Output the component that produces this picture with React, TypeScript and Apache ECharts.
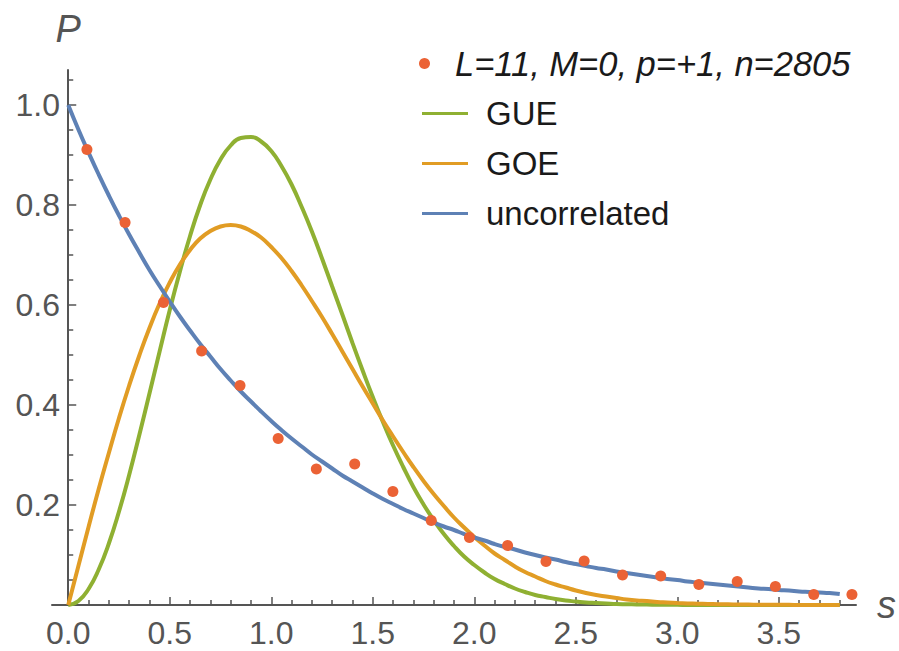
import React, { useEffect, useRef } from "react";
import * as echarts from "echarts";

// spacing s values of the measured histogram points
const pointS = [0.092, 0.280, 0.469, 0.657, 0.846, 1.034, 1.222, 1.411, 1.599, 1.788, 1.976, 2.164, 2.353, 2.541, 2.730, 2.918, 3.106, 3.295, 3.483, 3.672, 3.860];
const pointP = [0.911, 0.765, 0.605, 0.508, 0.439, 0.333, 0.272, 0.282, 0.227, 0.169, 0.135, 0.119, 0.087, 0.088, 0.060, 0.058, 0.041, 0.047, 0.037, 0.021, 0.021];

// s values where the reference curves are read (step 0.05)
const curveS = [
  0, 0.05, 0.1, 0.15, 0.2, 0.25, 0.3, 0.35, 0.4, 0.45,
  0.5, 0.55, 0.6, 0.65, 0.7, 0.75, 0.8, 0.85, 0.9, 0.95,
  1.0, 1.05, 1.1, 1.15, 1.2, 1.25, 1.3, 1.35, 1.4, 1.45,
  1.5, 1.55, 1.6, 1.65, 1.7, 1.75, 1.8, 1.85, 1.9, 1.95,
  2.0, 2.05, 2.1, 2.15, 2.2, 2.25, 2.3, 2.35, 2.4, 2.45,
  2.5, 2.55, 2.6, 2.65, 2.7, 2.75, 2.8, 2.85, 2.9, 2.95,
  3.0, 3.05, 3.1, 3.15, 3.2, 3.25, 3.3, 3.35, 3.4, 3.45,
  3.5, 3.55, 3.6, 3.65, 3.7, 3.75, 3.8,
];
const gueP = [
  0, 0.008, 0.032, 0.071, 0.123, 0.187, 0.260, 0.340, 0.423, 0.507,
  0.590, 0.667, 0.738, 0.800, 0.851, 0.891, 0.919, 0.934, 0.936, 0.927,
  0.908, 0.878, 0.841, 0.796, 0.747, 0.693, 0.637, 0.581, 0.524, 0.469,
  0.416, 0.366, 0.319, 0.276, 0.236, 0.201, 0.170, 0.142, 0.118, 0.097,
  0.080, 0.065, 0.052, 0.042, 0.033, 0.026, 0.020, 0.016, 0.012, 0.009,
  0.007, 0.005, 0.004, 0.003, 0.002, 0.0016, 0.0012, 0.0009, 0.0006, 0.0004,
  0.0003, 0.0002, 0.0001, 0.0001, 0, 0, 0, 0, 0, 0,
  0, 0, 0, 0, 0, 0, 0,
];
const goeP = [
  0, 0.078, 0.156, 0.232, 0.304, 0.374, 0.439, 0.499, 0.554, 0.603,
  0.645, 0.681, 0.710, 0.733, 0.748, 0.757, 0.760, 0.757, 0.748, 0.735,
  0.716, 0.694, 0.668, 0.639, 0.608, 0.576, 0.542, 0.507, 0.472, 0.437,
  0.403, 0.369, 0.337, 0.306, 0.276, 0.248, 0.222, 0.198, 0.175, 0.155,
  0.136, 0.119, 0.103, 0.090, 0.077, 0.066, 0.057, 0.048, 0.041, 0.035,
  0.029, 0.024, 0.020, 0.017, 0.014, 0.011, 0.009, 0.008, 0.006, 0.005,
  0.004, 0.0032, 0.0026, 0.0020, 0.0016, 0.0013, 0.0010, 0.0008, 0.0006, 0.0005,
  0.0004, 0.0003, 0.0002, 0.0002, 0.0001, 0.0001, 0.0001,
];
const poissonP = [
  1.000, 0.951, 0.905, 0.861, 0.819, 0.779, 0.741, 0.705, 0.670, 0.638,
  0.607, 0.577, 0.549, 0.522, 0.497, 0.472, 0.449, 0.427, 0.407, 0.387,
  0.368, 0.350, 0.333, 0.317, 0.301, 0.287, 0.273, 0.259, 0.247, 0.235,
  0.223, 0.212, 0.202, 0.192, 0.183, 0.174, 0.165, 0.157, 0.150, 0.142,
  0.135, 0.129, 0.122, 0.116, 0.111, 0.105, 0.100, 0.095, 0.091, 0.086,
  0.082, 0.078, 0.074, 0.071, 0.067, 0.064, 0.061, 0.058, 0.055, 0.052,
  0.050, 0.047, 0.045, 0.043, 0.041, 0.039, 0.037, 0.035, 0.033, 0.032,
  0.030, 0.029, 0.027, 0.026, 0.025, 0.024, 0.022,
];

// tick values
const xMajorTicks = [0, 0.5, 1.0, 1.5, 2.0, 2.5, 3.0, 3.5];
const xMinorTicks = [0.1, 0.2, 0.3, 0.4, 0.6, 0.7, 0.8, 0.9, 1.1, 1.2, 1.3, 1.4, 1.6, 1.7, 1.8, 1.9, 2.1, 2.2, 2.3, 2.4, 2.6, 2.7, 2.8, 2.9, 3.1, 3.2, 3.3, 3.4, 3.6, 3.7, 3.8];
const yMajorTicks = [0.2, 0.4, 0.6, 0.8, 1.0];
const yMinorTicks = [0.05, 0.1, 0.15, 0.25, 0.3, 0.35, 0.45, 0.5, 0.55, 0.65, 0.7, 0.75, 0.85, 0.9, 0.95, 1.05];

const seriesNames = ["L=11, M=0, p=+1, n=2805", "GUE", "GOE", "uncorrelated"];

const FONT = "'Liberation Sans', Arial, Helvetica, sans-serif";
const AXIS = "#555555";

export default function App() {
  const ref = useRef<HTMLDivElement>(null);
  useEffect(() => {
    if (!ref.current) return;
    const chart = echarts.init(ref.current, undefined, { renderer: "svg" });
    const zip = (xs: number[], ys: number[]) => xs.map((x, i) => [x, ys[i]]);
    const xCommon = {
      type: "value" as const,
      min: -0.08,
      max: 3.88,
      position: "bottom" as const,
      splitLine: { show: false },
    };
    const yCommon = {
      type: "value" as const,
      min: 0,
      max: 1.07,
      position: "left" as const,
      splitLine: { show: false },
    };
    chart.setOption({
      animation: false,
      backgroundColor: "#ffffff",
      textStyle: { fontFamily: FONT },
      grid: { left: 52, right: 42, top: 70, bottom: 46 },
      xAxis: [
        {
          ...xCommon,
          name: "s",
          nameLocation: "end",
          nameGap: 21,
          nameTextStyle: { fontSize: 38, fontStyle: "italic", color: AXIS, fontFamily: FONT },
          axisLine: { onZero: false, lineStyle: { color: AXIS, width: 2 } },
          axisTick: { inside: true, length: 8, customValues: xMajorTicks, lineStyle: { color: AXIS, width: 1.5 } },
          axisLabel: {
            customValues: xMajorTicks,
            formatter: (v: number) => v.toFixed(1),
            fontSize: 32,
            color: AXIS,
            margin: 12,
            fontFamily: FONT,
          },
        },
        {
          ...xCommon,
          axisLine: { show: false, onZero: false },
          axisTick: { inside: true, length: 5, customValues: xMinorTicks, lineStyle: { color: AXIS, width: 1.5 } },
          axisLabel: { show: false },
        },
      ],
      yAxis: [
        {
          ...yCommon,
          name: "P",
          nameLocation: "end",
          nameGap: 22,
          nameTextStyle: { fontSize: 38, fontStyle: "italic", color: AXIS, fontFamily: FONT },
          axisLine: { onZero: true, onZeroAxisIndex: 0, lineStyle: { color: AXIS, width: 2 } },
          axisTick: { inside: true, length: 8, customValues: yMajorTicks, lineStyle: { color: AXIS, width: 1.5 } },
          axisLabel: {
            customValues: yMajorTicks,
            formatter: (v: number) => v.toFixed(1),
            fontSize: 32,
            color: AXIS,
            margin: -8,
            fontFamily: FONT,
          },
        },
        {
          ...yCommon,
          axisLine: { show: false, onZero: true, onZeroAxisIndex: 0 },
          axisTick: { inside: true, length: 5, customValues: yMinorTicks, lineStyle: { color: AXIS, width: 1.5 } },
          axisLabel: { show: false },
        },
      ],
      legend: [
        {
          data: [seriesNames[0]],
          left: 414,
          top: 41,
          itemWidth: 11,
          itemHeight: 11,
          textStyle: { fontSize: 34.5, fontStyle: "italic", color: "#1a1a1a", fontFamily: FONT, padding: [0, 0, 0, 20] },
        },
        {
          data: seriesNames.slice(1),
          orient: "vertical",
          left: 417,
          top: 92,
          icon: "rect",
          itemWidth: 46,
          itemHeight: 3,
          itemGap: 17,
          textStyle: { fontSize: 33, color: "#1a1a1a", fontFamily: FONT, padding: [0, 0, 0, 13] },
        },
      ],
      series: [
        {
          name: seriesNames[0],
          type: "scatter",
          data: zip(pointS, pointP),
          symbol: "circle",
          symbolSize: 11,
          itemStyle: { color: "#EB6235", opacity: 1 },
          z: 5,
        },
        {
          name: seriesNames[1],
          type: "line",
          data: zip(curveS, gueP),
          smooth: true,
          symbol: "none",
          lineStyle: { color: "#8FB032", width: 4 },
          itemStyle: { color: "#8FB032" },
          z: 2,
        },
        {
          name: seriesNames[2],
          type: "line",
          data: zip(curveS, goeP),
          smooth: true,
          symbol: "none",
          lineStyle: { color: "#E19C24", width: 4 },
          itemStyle: { color: "#E19C24" },
          z: 3,
        },
        {
          name: seriesNames[3],
          type: "line",
          data: zip(curveS, poissonP),
          smooth: true,
          symbol: "none",
          lineStyle: { color: "#5E81B5", width: 4 },
          itemStyle: { color: "#5E81B5" },
          z: 4,
        },
      ],
    });
    return () => chart.dispose();
  }, []);
  return <div ref={ref} style={{ position: "absolute", left: 0, top: 0, width: 899, height: 651 }} />;
}
